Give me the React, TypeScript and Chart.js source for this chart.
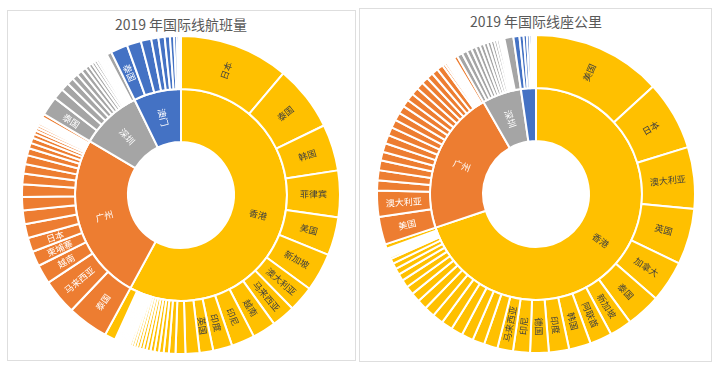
import React, { useEffect, useRef } from 'react';
import { Chart, registerables } from 'chart.js';

Chart.register(...registerables);

// ---------- shared ----------
const cities = ['香港', '广州', '深圳', '澳门'];
const cityColors = ['#FFC000', '#ED7D31', '#A5A5A5', '#4472C4'];
const cityTextColors = ['#3f3f3f', '#ffffff', '#ffffff', '#ffffff'];

// ---------- 2019 年国际线航班量 (angular shares) ----------
const flightTitle = '2019 年国际线航班量';
const flightInnerLabels = ['香港', '广州', '深圳', '澳门'];
const flightHKNames = ['日本', '泰国', '韩国', '菲律宾', '美国', '新加坡', '澳大利亚', '马来西亚', '越南', '印尼', '印度', '英国'];
const flightHK = [40, 24, 17, 17, 14, 14, 9.4, 8.6, 8.6, 8.5, 7, 5, 5.1, 3.6, 2.4, 1.9, 1.7, 1.6, 1.5, 1.4, 1.3, 1.2, 1.1, 1.0, 0.9, 0.8, 0.7, 0.7, 0.6, 0.5, 0.5, 0.4, 0.4, 0.3, 0.3, 0.3, 0.2, 0.2, 0.2, 0.2, 0.2, 4];
const flightGZNames = ['泰国', '马来西亚', '越南', '柬埔寨', '日本'];
const flightGZ = [15, 13, 7, 5.5, 5.2, 5.1, 5.0, 4.9, 4.6, 3.9, 3.4, 3.3, 2.6, 2.0, 2.0, 1.5, 1.3, 1.1, 1.0, 0.9, 0.7, 0.6, 0.5, 0.3, 0.2, 0.1, 1.2];
const flightSZNames = ['泰国'];
const flightSZ = [7, 4, 3, 2.5, 2.2, 2, 1.8, 1.5, 1.3, 1.1, 1.0, 0.8, 0.7, 0.6, 0.5, 0.4, 0.3, 0.3, 0.3, 0.3, 1.8];
const flightMONames = ['泰国'];
const flightMO = [6.2, 5.2, 3.8, 2.6, 2.3, 1.9, 1.5, 1.0, 0.8, 0.7];

// ---------- 2019 年国际线座公里 ----------
const seatTitle = '2019 年国际线座公里';
const seatInnerLabels = ['香港', '广州', '深圳', ''];
const seatHKNames = ['美国', '日本', '澳大利亚', '英国', '加拿大', '泰国', '新加坡', '阿联酋', '韩国', '印度', '德国', '印尼', '马来西亚'];
const seatHK = [47.4, 25.4, 22.5, 20.5, 15.2, 12.6, 8.1, 8.1, 8.0, 7.4, 6.8, 6.2, 5.7, 5, 4.4, 4.3, 4.3, 4.1, 4.0, 3.9, 3.6, 3.4, 3.1, 2.9, 2.5, 2.3, 2.1, 1.9, 0.8, 0.6, 0.5, 0.4, 0.4, 0.3, 0.3, 0.2, 0.2, 0.15, 0.15, 1.6];
const seatGZNames = ['美国', '澳大利亚'];
const seatGZ = [10.2, 9.5, 3.7, 3.7, 3.6, 3.2, 3.2, 3.1, 3.0, 3.0, 2.9, 2.9, 2.7, 2.7, 2.7, 2.7, 2.5, 2.4, 2.4, 2.3, 1.0, 0.8, 0.7, 0.6, 0.5, 0.4, 0.3, 0.3, 0.2, 0.2, 1.3];
const seatSZNames: string[] = [];
const seatSZ = [2.0, 1.9, 1.8, 1.7, 1.6, 1.5, 1.4, 1.3, 1.2, 1.0, 0.9, 0.7, 0.5, 0.4, 0.3, 3.3];
const seatMONames: string[] = [];
const seatMO = [2.2, 1.5, 1.2, 1.0, 0.8, 0.6, 0.4, 0.3, 0.2];

type Group = { values: number[]; names: string[] };

function buildConfig(groups: Group[], innerLabels: string[]) {
  const outerVals: number[] = [];
  const outerColors: string[] = [];
  const outerText: string[] = [];
  const outerTextColors: string[] = [];
  const innerVals: number[] = [];
  groups.forEach((g, gi) => {
    let s = 0;
    g.values.forEach((v, i) => {
      outerVals.push(v);
      outerColors.push(cityColors[gi]);
      outerText.push(g.names[i] || '');
      outerTextColors.push(cityTextColors[gi]);
      s += v;
    });
    innerVals.push(s);
  });
  const texts = [outerText, innerLabels];
  const textColors = [outerTextColors, cityTextColors];

  const labelPlugin = {
    id: 'sunLabels',
    afterDatasetsDraw(chart: any) {
      const ctx = chart.ctx;
      [0, 1].forEach((di) => {
        const meta = chart.getDatasetMeta(di);
        meta.data.forEach((arc: any, i: number) => {
          const txt = texts[di][i];
          if (!txt) return;
          const p = arc.getProps(['x', 'y', 'startAngle', 'endAngle', 'innerRadius', 'outerRadius'], true);
          const a = (p.startAngle + p.endAngle) / 2;
          const r = (p.innerRadius + p.outerRadius) / 2;
          const px = p.x + r * Math.cos(a);
          const py = p.y + r * Math.sin(a);
          const n = ((a % (2 * Math.PI)) + 2 * Math.PI) % (2 * Math.PI);
          const rot = Math.cos(n) >= -1e-6 ? n : n - Math.PI;
          ctx.save();
          ctx.translate(px, py);
          ctx.rotate(rot);
          ctx.fillStyle = textColors[di][i];
          ctx.font = '9px "Noto Sans CJK SC", sans-serif';
          ctx.textAlign = 'center';
          ctx.textBaseline = 'middle';
          ctx.fillText(txt, 0, 0);
          ctx.restore();
        });
      });
    },
  };

  return {
    type: 'doughnut' as const,
    data: {
      labels: outerText,
      datasets: [
        { data: outerVals, backgroundColor: outerColors, borderColor: '#ffffff', borderWidth: 2, hoverOffset: 0 },
        { data: innerVals, backgroundColor: cityColors, borderColor: '#ffffff', borderWidth: 2, hoverOffset: 0, labels: cities },
      ],
    },
    options: {
      responsive: false,
      animation: false as const,
      devicePixelRatio: 1,
      cutout: '33.3%',
      layout: { padding: 0 },
      events: [],
      plugins: { legend: { display: false }, tooltip: { enabled: false }, title: { display: false } },
    },
    plugins: [labelPlugin],
  };
}

function Sunburst({ cx, cy, groups, innerLabels }: { cx: number; cy: number; groups: Group[]; innerLabels: string[] }) {
  const ref = useRef<HTMLCanvasElement | null>(null);
  const size = 320;
  useEffect(() => {
    if (!ref.current) return;
    const chart = new Chart(ref.current, buildConfig(groups, innerLabels) as any);
    return () => chart.destroy();
  }, []);
  return (
    <div style={{ position: 'absolute', left: cx - size / 2, top: cy - size / 2, width: size, height: size }}>
      <canvas ref={ref} width={size} height={size} style={{ width: size, height: size, display: 'block' }} />
    </div>
  );
}

const titleStyle = (cx: number, cy: number): React.CSSProperties => ({
  position: 'absolute',
  left: cx - 120,
  top: cy - 10,
  width: 240,
  height: 20,
  lineHeight: '20px',
  textAlign: 'center',
  fontSize: 14,
  color: '#595959',
  fontFamily: '"Noto Sans CJK SC", sans-serif',
  whiteSpace: 'nowrap',
});

export default function App() {
  const flightGroups: Group[] = [
    { values: flightHK, names: flightHKNames },
    { values: flightGZ, names: flightGZNames },
    { values: flightSZ, names: flightSZNames },
    { values: flightMO, names: flightMONames },
  ];
  const seatGroups: Group[] = [
    { values: seatHK, names: seatHKNames },
    { values: seatGZ, names: seatGZNames },
    { values: seatSZ, names: seatSZNames },
    { values: seatMO, names: seatMONames },
  ];
  return (
    <div style={{ position: 'absolute', left: 0, top: 0, width: 722, height: 370, background: '#ffffff', overflow: 'hidden' }}>
      <div style={{ position: 'absolute', left: 7, top: 10, width: 347, height: 349, border: '1px solid #dedede' }} />
      <div style={{ position: 'absolute', left: 359, top: 8, width: 351, height: 352, border: '1px solid #dedede' }} />
      <div style={titleStyle(181, 24)}>{flightTitle}</div>
      <div style={titleStyle(536, 21)}>{seatTitle}</div>
      <Sunburst cx={181} cy={195} groups={flightGroups} innerLabels={flightInnerLabels} />
      <Sunburst cx={536} cy={194} groups={seatGroups} innerLabels={seatInnerLabels} />
    </div>
  );
}
